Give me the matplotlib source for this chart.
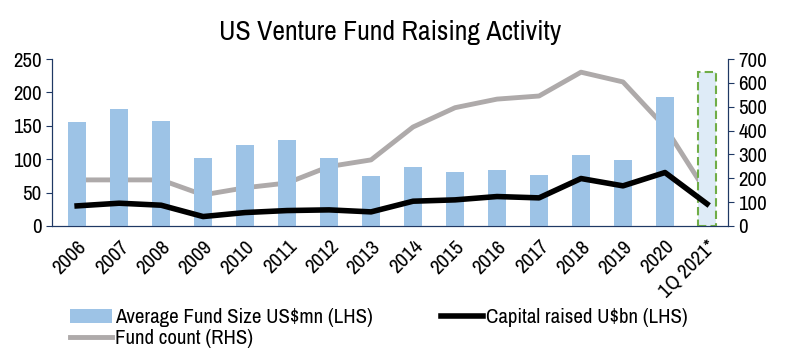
import matplotlib.pyplot as plt
import numpy as np

years = ['2006', '2007', '2008', '2009', '2010', '2011', '2012', '2013', '2014',
         '2015', '2016', '2017', '2018', '2019', '2020', '1Q 2021*']
avg_fund_size = [156, 175, 157, 101, 121, 129, 102, 75, 88, 81, 84, 76, 106, 99, 193, 231]
capital_raised = [30, 34, 31, 14, 20, 23, 24, 21, 37, 39, 44, 42, 71, 60, 80, 33]
fund_count = [193, 193, 193, 130, 160, 180, 249, 277, 415, 496, 532, 545, 645, 604, 415, 138]

plt.rcParams['font.family'] = ['Archivo Narrow', 'DejaVu Sans']

navy = '#1F3864'
fig = plt.figure(figsize=(7.87, 3.58), dpi=100)
ax = fig.add_axes([0.066, 0.369, 0.859, 0.466])
ax2 = ax.twinx()

x = np.arange(len(years))
cols = ['#9DC3E6'] * (len(years) - 1) + ['#DEEBF7']
bars = ax.bar(x, avg_fund_size, width=0.42, color=cols, zorder=1,
              label='Average Fund Size US$mn (LHS)')
bars[-1].set_edgecolor('#70AD47')
bars[-1].set_linestyle((0, (4, 2)))
bars[-1].set_linewidth(1.5)

ax.plot(x, capital_raised, color='black', lw=4, zorder=3, label='Capital raised U$bn (LHS)')
ax2.plot(x, fund_count, color='#AEAAAA', lw=3.5, zorder=2, label='Fund count (RHS)')

ax.set_ylim(0, 250)
ax2.set_ylim(0, 700)
ax.set_xlim(-0.6, len(years) - 0.5)
ax.set_yticks(range(0, 251, 50))
ax2.set_yticks(range(0, 701, 100))
ax.set_xticks(x)
ax.set_xticklabels(years, rotation=45, ha='right', rotation_mode='anchor', fontsize=15)
ax.tick_params(axis='x', length=0, pad=8)
ax.tick_params(axis='y', labelsize=15, color=navy, length=4)
ax2.tick_params(axis='y', labelsize=15, color=navy, length=4)

for a in (ax, ax2):
    a.spines['top'].set_visible(False)
    for s in ('left', 'right', 'bottom'):
        a.spines[s].set_color(navy)

ax.set_zorder(ax2.get_zorder() + 1)
ax.patch.set_visible(False)

ax.set_title('US Venture Fund Raising Activity', fontsize=20, pad=14)

h1, l1 = ax.get_legend_handles_labels()
h2, l2 = ax2.get_legend_handles_labels()
# column-major fill: col 1 = bars, fund count; col 2 = capital raised
leg = fig.legend([h1[1], h2[0], h1[0]], [l1[1], l2[0], l1[0]], ncol=2, frameon=False,
                 loc='lower left', bbox_to_anchor=(0.065, -0.025), fontsize=15,
                 handlelength=2.0, columnspacing=3.3, handletextpad=0.15, labelspacing=0.1)
plt.savefig('out.png', dpi=100)
